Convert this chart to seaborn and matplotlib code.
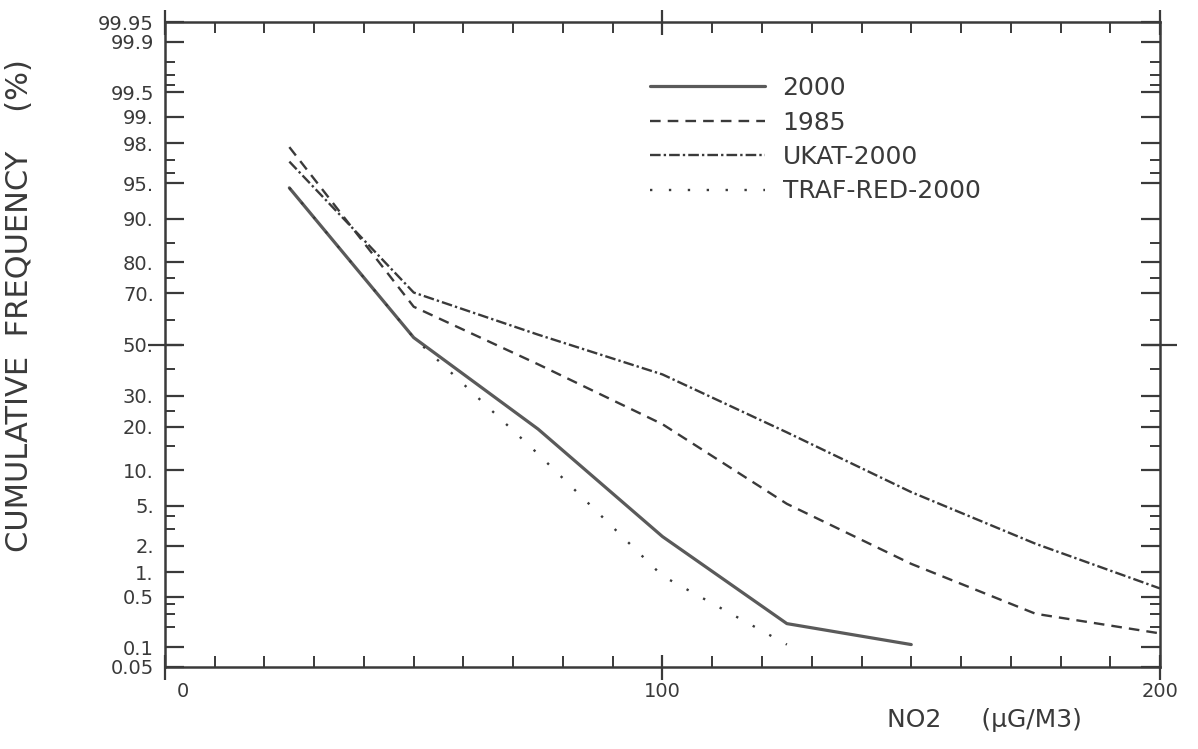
import numpy as np
import pandas as pd
import matplotlib
matplotlib.use('Agg')
import matplotlib.pyplot as plt
import seaborn as sns
from matplotlib.ticker import FixedLocator, NullLocator
from matplotlib.transforms import ScaledTranslation
from statistics import NormalDist

# 数据：NO2 浓度 (ug/m3) 与累计频率 (%)
no2 = [25, 50, 75, 100, 125, 150, 175, 200]
freq_2000 = [94.5, 52.8, 19.4, 2.5, 0.22, 0.11]
freq_1985 = [97.8, 65.0, 42.0, 20.8, 5.2, 1.26, 0.30, 0.16]
freq_ukat = [96.9, 70.2, 54.0, 38.0, 18.5, 6.6, 2.1, 0.64]
freq_traf = [94.5, 52.8, 13.2, 0.91, 0.11]
series_names = ['2000', '1985', 'UKAT-2000', 'TRAF-RED-2000']

# 概率坐标刻度
y_major = [0.05, 0.1, 0.5, 1, 2, 5, 10, 20, 30, 50, 70, 80, 90, 95, 98, 99, 99.5, 99.9, 99.95]
y_major_labels = ['0.05', '0.1', '0.5', '1.', '2.', '5.', '10.', '20.', '30.', '50.',
                  '70.', '80.', '90.', '95.', '98.', '99.', '99.5', '99.9', '99.95']
y_minor = [0.2, 0.3, 0.4, 3, 4, 15, 25, 40, 60, 75, 85, 96, 97, 99.6, 99.7, 99.8]
x_major = [0, 100, 200]
x_major_labels = ['0', '100', '200']
x_minor = [v for v in range(10, 200, 10) if v != 100]

# 正态概率（probit）坐标变换
_nd = NormalDist()


def _probit(p):
    p = np.clip(np.asarray(p, dtype=float) / 100.0, 1e-7, 1 - 1e-7)
    f = np.vectorize(lambda v: _nd.inv_cdf(v) if np.isfinite(v) else np.nan, otypes=[float])
    return f(p)


def _inv_probit(z):
    z = np.asarray(z, dtype=float)
    f = np.vectorize(lambda v: 100.0 * _nd.cdf(v) if np.isfinite(v) else np.nan, otypes=[float])
    return f(z)


sns.set_style('ticks')
plt.rcParams['font.family'] = ['DejaVu Sans']
ink = '#3a3a3a'

fig, ax = plt.subplots(figsize=(11.98, 7.49), dpi=100)
fig.subplots_adjust(left=0.1377, right=0.9683, bottom=0.1095, top=0.9706)
ax.set_yscale('function', functions=(_probit, _inv_probit))

styles = {
    '2000': dict(color='#5a5a5a', linewidth=2.3, linestyle='-'),
    '1985': dict(color=ink, linewidth=1.7, linestyle=(0, (4.5, 3.0))),
    'UKAT-2000': dict(color=ink, linewidth=1.7, linestyle=(0, (4.5, 1.3, 1, 1.3))),
    'TRAF-RED-2000': dict(color=ink, linewidth=1.7, linestyle=(0, (1, 7))),
}
for name, vals in zip(series_names, [freq_2000, freq_1985, freq_ukat, freq_traf]):
    sns.lineplot(x=no2[:len(vals)], y=vals, ax=ax, label=name,
                 estimator=None, errorbar=None, sort=False, **styles[name])

ax.set_xlim(0, 200)
ax.set_ylim(0.05, 99.95)

# 50% 处穿过坐标轴的刻度
ax2 = ax.twinx()
ax2.set_yscale('function', functions=(_probit, _inv_probit))
ax2.set_ylim(0.05, 99.95)
ax2.yaxis.set_major_locator(FixedLocator([50]))
ax2.yaxis.set_minor_locator(NullLocator())
ax2.tick_params(axis='y', which='major', direction='inout', length=24, width=1.6, color=ink,
                left=True, right=True, labelleft=False, labelright=False)
for s in ax2.spines.values():
    s.set_visible(False)

ax.set_xticks(x_major)
ax.set_xticklabels(x_major_labels)
ax.set_xticks(x_minor, minor=True)
ax.set_yticks(y_major)
ax.set_yticklabels(y_major_labels)
ax.set_yticks(y_minor, minor=True)
ax.tick_params(axis='x', which='major', direction='inout', length=18, width=1.6, color=ink,
               top=True, bottom=True, pad=2, labelsize=14, labelcolor=ink)
ax.tick_params(axis='x', which='minor', direction='in', length=8, width=1.4, color=ink,
               top=True, bottom=True)
ax.tick_params(axis='y', which='major', direction='in', length=13.5, width=1.6, color=ink,
               left=True, right=True, pad=8, labelsize=14, labelcolor=ink)
ax.tick_params(axis='y', which='minor', direction='in', length=7, width=1.4, color=ink,
               left=True, right=True)
for s in ax.spines.values():
    s.set_visible(True)
    s.set_color(ink)
    s.set_linewidth(1.8)

lab0 = ax.get_xticklabels()[0]
lab0.set_transform(lab0.get_transform() + ScaledTranslation(0.18, 0, fig.dpi_scale_trans))

ax.set_ylabel('CUMULATIVE  FREQUENCY    (%)', fontsize=22, color=ink)
ax.yaxis.set_label_coords(-0.1317, 0.56)
ax.set_xlabel('NO2     (\u03bcG/M3)', fontsize=18, color=ink)
ax.xaxis.set_label_coords(0.824, -0.064)

leg = ax.legend(loc='upper left', bbox_to_anchor=(650 / 1198, 1 - 76 / 749),
                bbox_transform=fig.transFigure, frameon=False, borderpad=0, borderaxespad=0,
                fontsize=18, handlelength=4.6, handletextpad=0.7, labelspacing=0.42)
for t in leg.get_texts():
    t.set_color(ink)

fig.savefig('out.png', dpi=100)
